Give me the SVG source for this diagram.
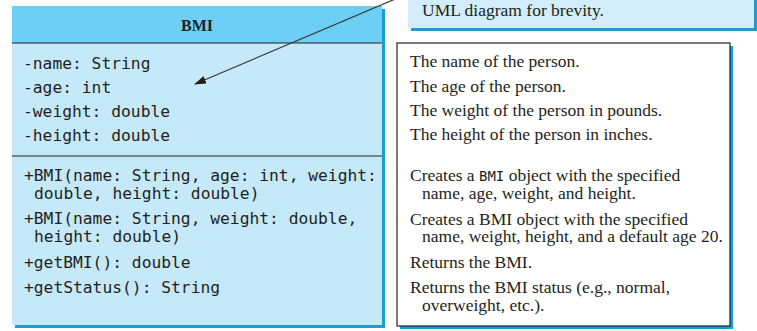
<svg xmlns="http://www.w3.org/2000/svg" width="757" height="331" viewBox="0 0 757 331">
  <style>
    .mono { font-family: "DejaVu Sans Mono", "Liberation Mono", monospace; font-size: 16.3px; fill: #231f20; }
    .serif { font-family: "Liberation Serif", "Times New Roman", serif; font-size: 17.5px; fill: #231f20; }
    .title { font-family: "Liberation Serif", "Times New Roman", serif; font-size: 16px; font-weight: bold; fill: #231f20; }
    .shadow { fill: #1b9dd3; }
    .rule { stroke: #231f20; stroke-width: 1.2; }
    .link { stroke: #3a3a3a; stroke-width: 1.2; fill: none; }
  </style>
  <defs>
    <marker id="arrowhead" markerWidth="12" markerHeight="8" refX="11" refY="4" orient="auto" markerUnits="userSpaceOnUse">
      <path d="M0,0 L12,4 L0,8 Z" fill="#231f20"/>
    </marker>
  </defs>

  <rect width="757" height="331" fill="#ffffff"/>

  <!-- note box at the top right -->
  <g id="note">
    <rect class="shadow" x="411" y="-2" width="346" height="33"/>
    <rect x="408" y="-5" width="346" height="33" fill="#d3eefa"/>
    <text class="serif" x="422" y="16">UML diagram for brevity.</text>
  </g>

  <!-- BMI class -->
  <g id="bmi-class">
    <rect class="shadow" x="15" y="9" width="370" height="319"/>
    <rect x="12" y="6" width="370" height="37" fill="#6dcff5"/>
    <rect x="12" y="43" width="370" height="282" fill="#c6e9f9"/>
    <line class="rule" x1="12" y1="43" x2="382" y2="43"/>
    <line class="rule" x1="12" y1="156" x2="382" y2="156"/>
    <text class="title" x="197" y="31" text-anchor="middle">BMI</text>
    <text class="mono" x="23" y="69">-name: String</text>
    <text class="mono" x="23" y="93">-age: int</text>
    <text class="mono" x="23" y="117">-weight: double</text>
    <text class="mono" x="23" y="141">-height: double</text>
    <text class="mono" x="24" y="181">+BMI(name: String, age: int, weight:</text>
    <text class="mono" x="34" y="199">double, height: double)</text>
    <text class="mono" x="24" y="224">+BMI(name: String, weight: double,</text>
    <text class="mono" x="34" y="242">height: double)</text>
    <text class="mono" x="24" y="268">+getBMI(): double</text>
    <text class="mono" x="24" y="293">+getStatus(): String</text>
  </g>

  <!-- descriptions -->
  <g id="descriptions">
    <rect class="shadow" x="400" y="46" width="333" height="283"/>
    <rect x="397" y="43" width="333" height="283" fill="#ffffff" stroke="#231f20" stroke-width="1.2"/>
    <text class="serif" x="410" y="67">The name of the person.</text>
    <text class="serif" x="410" y="92">The age of the person.</text>
    <text class="serif" x="410" y="116">The weight of the person in pounds.</text>
    <text class="serif" x="410" y="140">The height of the person in inches.</text>
    <text class="serif" x="410" y="181">Creates a <tspan font-family="DejaVu Sans Mono, Liberation Mono, monospace" font-size="14">BMI</tspan> object with the specified</text>
    <text class="serif" x="422" y="198.5">name, age, weight, and height.</text>
    <text class="serif" x="410" y="224.5">Creates a BMI object with the specified</text>
    <text class="serif" x="422" y="241.5">name, weight, height, and a default age 20.</text>
    <text class="serif" x="410" y="268">Returns the BMI.</text>
    <text class="serif" x="410" y="293">Returns the BMI status (e.g., normal,</text>
    <text class="serif" x="422" y="310.5">overweight, etc.).</text>
  </g>

  <!-- connectors -->
  <g id="connectors">
    <line class="link" x1="400" y1="-3" x2="195" y2="84" marker-end="url(#arrowhead)"/>
  </g>
</svg>
